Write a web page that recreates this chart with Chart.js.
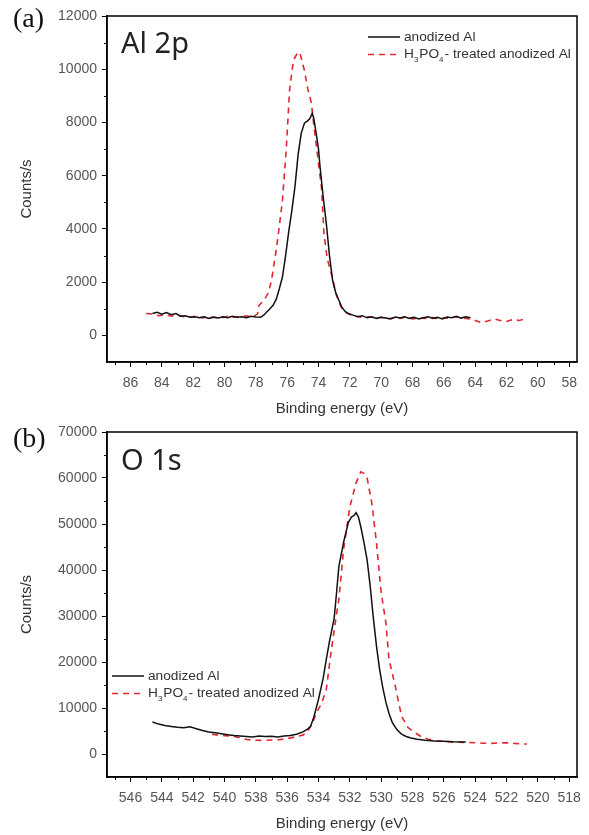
<!DOCTYPE html>
<html>
<head>
<meta charset="utf-8">
<script src="https://cdn.jsdelivr.net/npm/chart.js@4.4.0/dist/chart.umd.min.js"></script>
<style>
body { margin: 0; background: #fff; }
canvas { display: block; }
</style>
</head>
<body>
<canvas id="chartA" width="589" height="418"></canvas>
<canvas id="chartB" width="589" height="417"></canvas>
<script>
// (a) Al 2p
var alEnergy = [84.6, 84.3, 84.0, 83.7, 83.4, 83.1, 82.8, 82.5, 82.2, 81.9, 81.6, 81.3, 81.0, 80.7, 80.4, 80.1, 79.8, 79.5, 79.2, 78.9, 78.6, 78.3, 78.0, 77.7, 77.5, 77.3, 77.1, 76.9, 76.7, 76.5, 76.3, 76.1, 75.9, 75.7, 75.5, 75.3, 75.1, 74.9, 74.7, 74.55, 74.4, 74.3, 74.15, 74.0, 73.9, 73.7, 73.5, 73.3, 73.1, 72.9, 72.7, 72.5, 72.3, 72.1, 71.8, 71.5, 71.2, 70.9, 70.6, 70.3, 70.0, 69.7, 69.4, 69.1, 68.8, 68.5, 68.2, 67.9, 67.6, 67.3, 67.0, 66.7, 66.4, 66.1, 65.8, 65.5, 65.2, 64.9, 64.6, 64.3];
var alCounts = [820, 870, 800, 860, 780, 820, 720, 740, 680, 700, 660, 700, 640, 680, 650, 700, 660, 720, 680, 700, 660, 720, 690, 680, 760, 880, 1000, 1130, 1350, 1750, 2200, 3000, 3900, 4700, 5600, 6800, 7600, 7970, 8060, 8150, 8340, 8150, 7600, 7000, 6320, 5200, 4200, 3000, 2070, 1600, 1320, 1050, 900, 820, 760, 700, 740, 660, 700, 640, 680, 650, 620, 690, 650, 700, 640, 680, 620, 660, 700, 640, 680, 620, 690, 660, 720, 650, 700, 660];
var alEnergyAcid = [85.0, 84.6, 84.2, 83.8, 83.4, 83.0, 82.6, 82.2, 81.8, 81.4, 81.0, 80.6, 80.2, 79.8, 79.4, 79.0, 78.6, 78.2, 77.9, 77.8, 77.5, 77.2, 77.0, 76.7, 76.5, 76.3, 76.05, 75.85, 75.6, 75.4, 75.2, 75.05, 74.9, 74.7, 74.45, 74.3, 74.1, 73.8, 73.65, 73.45, 73.1, 72.9, 72.7, 72.5, 72.3, 72.0, 71.6, 71.2, 70.8, 70.4, 70.0, 69.6, 69.2, 68.8, 68.4, 68.0, 67.6, 67.2, 66.8, 66.4, 66.0, 65.6, 65.2, 64.8, 64.4, 64.0, 63.6, 63.2, 62.8, 62.4, 62.0, 61.6, 61.2, 60.8];
var alCountsAcid = [820, 800, 740, 780, 720, 760, 700, 680, 720, 660, 700, 680, 660, 720, 680, 700, 740, 700, 800, 1130, 1300, 1600, 2070, 3200, 4100, 5080, 7070, 9200, 10340, 10550, 10640, 10300, 9960, 9300, 8720, 7900, 6950, 5500, 3830, 2900, 2140, 1600, 1250, 1000, 880, 780, 720, 680, 700, 650, 680, 620, 660, 640, 690, 620, 660, 640, 680, 620, 660, 640, 700, 660, 620, 560, 480, 540, 620, 560, 520, 600, 560, 620];
var alTicksX = [58, 60, 62, 64, 66, 68, 70, 72, 74, 76, 78, 80, 82, 84, 86];
var alTicksY = [0, 2000, 4000, 6000, 8000, 10000, 12000];

// (b) O 1s
var oEnergy = [544.6, 544.2, 543.8, 543.4, 543.0, 542.6, 542.2, 541.8, 541.4, 541.0, 540.6, 540.2, 539.8, 539.4, 539.0, 538.6, 538.2, 537.8, 537.4, 537.0, 536.6, 536.2, 535.8, 535.4, 535.0, 534.7, 534.5, 534.3, 534.0, 533.7, 533.5, 533.3, 533.0, 532.85, 532.7, 532.4, 532.1, 531.9, 531.75, 531.6, 531.45, 531.3, 531.1, 530.9, 530.7, 530.5, 530.3, 530.1, 529.9, 529.7, 529.5, 529.3, 529.0, 528.7, 528.4, 528.1, 527.7, 527.2, 526.6, 526.0, 525.4, 524.6];
var oCounts = [6940, 6500, 6200, 6000, 5800, 5700, 5900, 5500, 5100, 4800, 4600, 4400, 4200, 4000, 3900, 3800, 3700, 3900, 3800, 3850, 3700, 3900, 4000, 4300, 4800, 5400, 6070, 8000, 11900, 16500, 20600, 24500, 29500, 35000, 40750, 46000, 50280, 51500, 51800, 52450, 51500, 49400, 46000, 42260, 36500, 29600, 23500, 18420, 14500, 11270, 8800, 6940, 5300, 4330, 3800, 3470, 3200, 3000, 2820, 2750, 2650, 2600];
var oEnergyAcid = [540.8, 540.4, 540.0, 539.5, 539.0, 538.5, 538.0, 537.5, 537.0, 536.5, 536.0, 535.5, 535.0, 534.7, 534.4, 534.1, 533.8, 533.5, 533.2, 532.9, 532.7, 532.4, 532.0, 531.6, 531.3, 531.1, 530.9, 530.6, 530.3, 530.0, 529.7, 529.5, 529.1, 528.7, 528.3, 528.0, 527.4, 527.0, 526.5, 526.0, 525.5, 525.0, 524.5, 524.0, 523.5, 523.0, 522.5, 522.0, 521.5, 521.0, 520.7];
var oCountsAcid = [4300, 4100, 4000, 3900, 3500, 3100, 3000, 2950, 3050, 3100, 3350, 3700, 4100, 4800, 6600, 9200, 11000, 14090, 22100, 29250, 33590, 44430, 53750, 58950, 61340, 61000, 60040, 54620, 45950, 35110, 28600, 20590, 14740, 8240, 5800, 4980, 3680, 3200, 2900, 2750, 2600, 2550, 2500, 2450, 2350, 2300, 2400, 2450, 2300, 2200, 2170];
var oTicksX = [518, 520, 522, 524, 526, 528, 530, 532, 534, 536, 538, 540, 542, 544, 546];
var oTicksY = [0, 10000, 20000, 30000, 40000, 50000, 60000, 70000];

var seriesNames = ['anodized Al', 'H₃PO₄- treated anodized Al'];
var seriesColors = ['#111111', '#e3262f'];

function pairs(xs, ys) {
    return xs.map(function (x, i) { return { x: x, y: ys[i] }; });
}

// frame, minor ticks, panel letters and the in-plot legend
var decorPlugin = {
    id: 'decor',
    afterDraw: function (chart, args, opts) {
        var ctx = chart.ctx, a = chart.chartArea;
        var xs = chart.scales.x, ys = chart.scales.y;
        ctx.save();
        ctx.strokeStyle = '#000';
        ctx.lineWidth = 1.5;
        ctx.strokeRect(a.left, a.top, a.right - a.left, a.bottom - a.top);

        ctx.lineWidth = 1;
        ctx.beginPath();
        for (var v = Math.ceil(xs.min); v <= xs.max; v += 1) {
            if (v % 2 === 0) continue;
            var px = Math.round(xs.getPixelForValue(v)) + 0.5;
            ctx.moveTo(px, a.bottom);
            ctx.lineTo(px, a.bottom + 3);
        }
        for (var w = opts.yMinor; w < ys.max; w += opts.yMinor * 2) {
            var py = Math.round(ys.getPixelForValue(w)) + 0.5;
            ctx.moveTo(a.left, py);
            ctx.lineTo(a.left - 3, py);
        }
        ctx.stroke();

        ctx.fillStyle = '#111';
        ctx.textBaseline = 'alphabetic';
        ctx.font = '28px "Liberation Serif", "Times New Roman", serif';
        ctx.fillText(opts.letter, 13, opts.letterY);
        ctx.fillStyle = '#222';
        ctx.font = '29px "Noto Sans", sans-serif';
        ctx.fillText(opts.element, a.left + 14, a.top + opts.elementY);

        // legend
        var lx = a.left + opts.legendX, ly = a.top + opts.legendY;
        chart.data.datasets.forEach(function (ds, i) {
            var y = ly + i * 17.5;
            ctx.strokeStyle = ds.borderColor;
            ctx.lineWidth = ds.borderWidth;
            ctx.setLineDash(ds.borderDash || []);
            ctx.beginPath();
            ctx.moveTo(lx, y);
            ctx.lineTo(lx + 32, y);
            ctx.stroke();
            ctx.setLineDash([]);
            drawLabel(ctx, ds.label, lx + 36, y);
        });
        ctx.restore();
    }
};

function drawLabel(ctx, text, x, y) {
    var subs = '₀₁₂₃₄₅₆₇₈₉';
    ctx.fillStyle = '#333';
    ctx.textBaseline = 'middle';
    for (var i = 0; i < text.length; i++) {
        var ch = text[i], k = subs.indexOf(ch);
        if (k >= 0) {
            ctx.font = '8px "Liberation Sans", Arial, sans-serif';
            ctx.fillText(String(k), x, y + 5);
            x += ctx.measureText(String(k)).width + 1;
        } else {
            ctx.font = '13.7px "Liberation Sans", Arial, sans-serif';
            ctx.fillText(ch, x, y);
            x += ctx.measureText(ch).width;
        }
    }
}

function fixedTicks(values) {
    return function (s) {
        s.ticks = values.map(function (v) { return { value: v }; });
    };
}

function makeChart(id, d) {
    return new Chart(document.getElementById(id), {
        type: 'line',
        data: {
            datasets: [{
                label: seriesNames[0],
                data: pairs(d.ex, d.cy),
                borderColor: seriesColors[0],
                borderWidth: 1.5,
                pointRadius: 0,
                tension: 0
            }, {
                label: seriesNames[1],
                data: pairs(d.ex2, d.cy2),
                borderColor: seriesColors[1],
                borderWidth: 1.6,
                borderDash: [6, 5],
                pointRadius: 0,
                tension: 0
            }]
        },
        plugins: [decorPlugin],
        options: {
            responsive: false,
            animation: false,
            devicePixelRatio: 1,
            layout: { padding: { top: d.top, right: 12, left: 0, bottom: 0 } },
            plugins: {
                legend: { display: false },
                tooltip: { enabled: false },
                decor: d.decor
            },
            scales: {
                x: {
                    type: 'linear',
                    reverse: true,
                    min: d.xMin,
                    max: d.xMax,
                    afterBuildTicks: fixedTicks(d.ticksX),
                    afterFit: function (s) {
                        s.height = d.xHeight;
                        s.paddingLeft = 0;
                        s.paddingRight = 0;
                    },
                    ticks: {
                        autoSkip: false,
                        maxRotation: 0,
                        padding: 8,
                        color: '#555',
                        font: { family: '"Liberation Sans", Arial', size: 14 },
                        callback: function (v) { return String(v); }
                    },
                    grid: { drawOnChartArea: false, tickLength: 5, color: '#000', lineWidth: 1 },
                    border: { color: '#000', width: 1.5 },
                    title: {
                        display: true,
                        text: 'Binding energy (eV)',
                        color: '#333',
                        font: { family: '"Liberation Sans", Arial', size: 15 },
                        padding: { top: 0, bottom: d.titlePad }
                    }
                },
                y: {
                    min: d.yMin,
                    max: d.yMax,
                    afterBuildTicks: fixedTicks(d.ticksY),
                    afterFit: function (s) {
                        s.width = 107;
                        s.paddingTop = 0;
                        s.paddingBottom = 0;
                    },
                    ticks: {
                        padding: 5,
                        color: '#555',
                        font: { family: '"Liberation Sans", Arial', size: 14 },
                        callback: function (v) { return String(v); }
                    },
                    grid: { drawOnChartArea: false, tickLength: 5, color: '#000', lineWidth: 1 },
                    border: { color: '#000', width: 1.5 },
                    title: {
                        display: true,
                        text: 'Counts/s',
                        color: '#333',
                        font: { family: '"Liberation Sans", Arial', size: 15 },
                        padding: { top: 18, bottom: 0 }
                    }
                }
            }
        }
    });
}

makeChart('chartA', {
    ex: alEnergy, cy: alCounts, ex2: alEnergyAcid, cy2: alCountsAcid,
    ticksX: alTicksX, ticksY: alTicksY,
    xMin: 57.5, xMax: 87.5, yMin: -1000, yMax: 12000,
    top: 16, xHeight: 56, titlePad: 0,
    decor: { letter: '(a)', letterY: 27, element: 'Al 2p', elementY: 37, yMinor: 1000, legendX: 261, legendY: 21 }
});

makeChart('chartB', {
    ex: oEnergy, cy: oCounts, ex2: oEnergyAcid, cy2: oCountsAcid,
    ticksX: oTicksX, ticksY: oTicksY,
    xMin: 517.5, xMax: 547.5, yMin: -5000, yMax: 70000,
    top: 14, xHeight: 58, titlePad: 2,
    decor: { letter: '(b)', letterY: 29, element: 'O 1s', elementY: 38, yMinor: 5000, legendX: 5, legendY: 244 }
});
</script>
</body>
</html>
